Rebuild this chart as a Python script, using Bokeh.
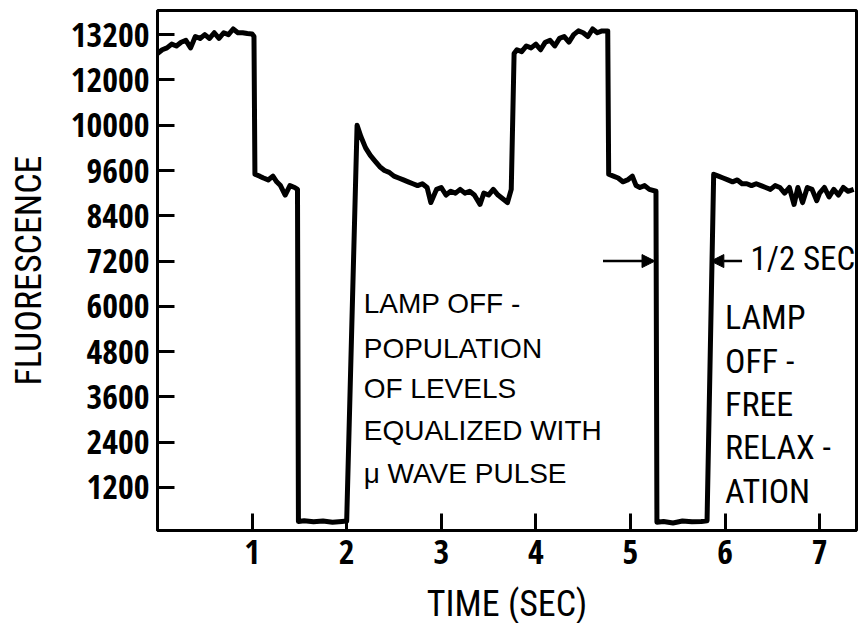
from bokeh.plotting import figure
from bokeh.models import FixedTicker, Arrow, NormalHead
from bokeh.core.properties import value
from bokeh.embed import file_html
from bokeh.resources import INLINE

# ---- data ----
time_s = [0.0, 0.05, 0.1, 0.15, 0.2, 0.25, 0.3, 0.35, 0.4, 0.45, 0.5, 0.55, 0.6, 0.65, 0.7, 0.75,
          0.8, 0.85, 0.9, 0.95, 1.0, 1.02,
          1.03, 1.08, 1.12, 1.17, 1.22, 1.26, 1.3, 1.35, 1.4, 1.45, 1.48,
          1.49, 1.55, 1.65, 1.75, 1.85, 1.95, 2.0,
          2.11, 2.15, 2.2, 2.25, 2.3, 2.35, 2.4, 2.45, 2.5, 2.55, 2.6, 2.65, 2.7, 2.75, 2.8,
          2.85, 2.89, 2.95, 3.0, 3.05, 3.1, 3.15, 3.2, 3.25, 3.3, 3.35, 3.41, 3.45, 3.5,
          3.55, 3.6, 3.65, 3.7, 3.74,
          3.77, 3.8, 3.85, 3.9, 3.95, 4.0, 4.05, 4.1, 4.15, 4.2, 4.25, 4.3, 4.35, 4.4, 4.45,
          4.5, 4.55, 4.6, 4.65, 4.7, 4.76,
          4.77, 4.82, 4.87, 4.92, 4.97, 5.02, 5.06, 5.1, 5.15, 5.2, 5.27,
          5.28, 5.35, 5.45, 5.55, 5.65, 5.75, 5.81,
          5.88, 5.93, 5.98, 6.03, 6.08, 6.13, 6.18, 6.23, 6.28, 6.33, 6.38, 6.43, 6.48, 6.53,
          6.58, 6.63, 6.68, 6.73, 6.77, 6.82, 6.87, 6.92, 6.97, 7.0, 7.05, 7.1, 7.15, 7.2,
          7.25, 7.3, 7.36]
fluorescence = [12700, 12800, 12850, 12950, 12900, 13000, 13050, 12850, 13150, 13100, 13200, 13100,
                13250, 13100, 13250, 13200, 13350, 13250, 13250, 13230, 13220, 13150,
                9500, 9450, 9400, 9350, 9450, 9300, 9200, 8950, 9200, 9150, 9100,
                300, 320, 290, 310, 280, 300, 310,
                10800, 10500, 10200, 10000, 9850, 9700, 9600, 9550, 9450, 9400, 9350, 9300,
                9250, 9200, 9250,
                9150, 8750, 9100, 9150, 8950, 9050, 9000, 9100, 9000, 9050, 8950, 8700, 9000, 8950,
                9100, 8950, 8850, 8750, 9100,
                12700, 12800, 12750, 12900, 12850, 12950, 12800, 13000, 13050, 12900, 13100,
                13150, 13000, 13200, 13300, 13250, 13150, 13350, 13250, 13300, 13300,
                9500, 9450, 9400, 9300, 9350, 9450, 9200, 9150, 9200, 9100, 9050,
                280, 300, 260, 310, 290, 300, 320,
                9500, 9450, 9400, 9350, 9300, 9350, 9250, 9250, 9200, 9250, 9200, 9150, 9100,
                9200, 9150, 9000, 9150, 8700, 9150, 8750, 9150, 9100, 8800, 9000, 9150, 8900,
                9100, 8950, 9150, 9050, 9100]

y_ticks = [1200, 2400, 3600, 4800, 6000, 7200, 8400, 9600, 10800, 12000, 13200]
y_tick_labels = ["1200", "2400", "3600", "4800", "6000", "7200", "8400", "9600",
                 "10000", "12000", "13200"]
x_ticks = [1, 2, 3, 4, 5, 6, 7]
x_tick_labels = ["1", "2", "3", "4", "5", "6", "7"]

note1_lines = ["LAMP OFF -", "POPULATION", "OF LEVELS", "EQUALIZED WITH", "\u03bc WAVE PULSE"]
note1_x = [2.18] * 5
note1_y = [6065, 4873, 3814, 2701, 1562]
note2_lines = ["LAMP", "OFF -", "FREE", "RELAX -", "ATION"]
note2_x = [6.0] * 5
note2_y = [5721, 4555, 3416, 2277, 1112]
half_sec_label = ["1/2 SEC"]
half_sec_x = [6.27]
half_sec_y = [7257]
arrow_left = (4.71, 5.26, 7200)
arrow_right = (6.18, 5.85, 7200)

TICK_FONT = "Open Sans Condensed"
LABEL_FONT = "Roboto Condensed"

p = figure(frame_width=699, frame_height=520, output_backend="svg", toolbar_location=None,
           x_range=(0, 7.39), y_range=(60, 13840),
           min_border_left=157, min_border_right=3, min_border_top=10, min_border_bottom=93)
p.grid.visible = False
p.background_fill_color = "white"
p.border_fill_color = "white"
p.outline_line_color = "black"
p.outline_line_width = 3

p.line(time_s, fluorescence, line_color="black", line_width=5, line_join="round")

for ax in (p.xaxis[0], p.yaxis[0]):
    ax.axis_line_width = 3
    ax.major_tick_line_width = 3
    ax.major_tick_in = 17
    ax.major_tick_out = 0
    ax.minor_tick_line_color = None
    ax.major_label_text_font = TICK_FONT
    ax.major_label_text_font_size = "34px"
    ax.major_label_text_font_style = "bold"
    ax.major_label_text_color = "black"
    ax.axis_label_text_font = LABEL_FONT
    ax.axis_label_text_font_style = "normal"
    ax.axis_label_text_font_size = "36px"
    ax.axis_label_text_color = "black"

p.yaxis[0].ticker = FixedTicker(ticks=y_ticks)
p.yaxis[0].major_label_overrides = dict(zip(y_ticks, y_tick_labels))
p.yaxis[0].major_label_standoff = 8
p.yaxis[0].axis_label = "FLUORESCENCE"
p.yaxis[0].axis_label_standoff = 18

p.xaxis[0].ticker = FixedTicker(ticks=x_ticks)
p.xaxis[0].major_label_overrides = dict(zip(x_ticks, x_tick_labels))
p.xaxis[0].major_label_standoff = 9
p.xaxis[0].axis_label = "TIME (SEC)"
p.xaxis[0].axis_label_standoff = 16

p.text(x=note1_x, y=note1_y, text=note1_lines, text_font=value("Liberation Sans"),
       text_font_size="28px", text_baseline="alphabetic", text_align="left", text_color="black")
p.text(x=note2_x, y=note2_y, text=note2_lines, text_font=value(LABEL_FONT),
       text_font_size="34px", text_baseline="alphabetic", text_align="left", text_color="black")
p.text(x=half_sec_x, y=half_sec_y, text=half_sec_label, text_font=value(LABEL_FONT),
       text_font_size="33px", text_baseline="alphabetic", text_align="left", text_color="black")

for (xs, xe, yy) in (arrow_left, arrow_right):
    p.add_layout(Arrow(end=NormalHead(size=13, fill_color="black", line_color="black"),
                       x_start=xs, y_start=yy, x_end=xe, y_end=yy,
                       line_color="black", line_width=2.5))

open("out.html", "w").write(file_html(p, INLINE))
